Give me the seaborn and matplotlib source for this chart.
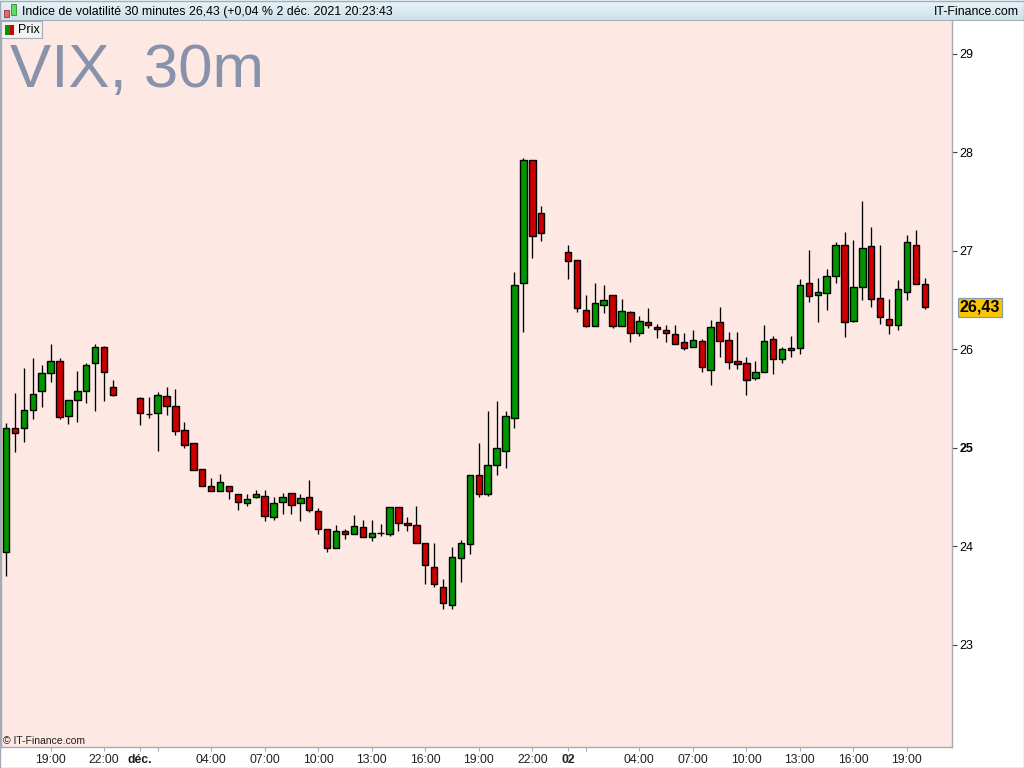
import matplotlib
matplotlib.use("Agg")
import matplotlib.pyplot as plt
from matplotlib.patches import Rectangle
from matplotlib.colors import LinearSegmentedColormap
import matplotlib.transforms as mtransforms
import numpy as np
import pandas as pd
import seaborn as sns

nan = np.nan

# 30 minute VIX candles, 30 nov 16:30 -> 2 dec 20:00 (nan = no trading)
opens = [23.94, 25.20, 25.20, 25.39, 25.58, 25.76, 25.88, 25.32, 25.49, 25.58,
         25.86, 26.03, 25.62, nan, nan, 25.51, 25.34, 25.35, 25.53, 25.43,
         25.18, 25.05, 24.79, 24.61, 24.56, 24.61, 24.53, 24.44, 24.50, 24.51,
         24.30, 24.45, 24.54, 24.44, 24.50, 24.36, 24.18, 23.98, 24.16, 24.13,
         24.20, 24.10, 24.14, 24.13, 24.40, 24.24, 24.22, 24.04, 23.79, 23.59,
         23.41, 23.88, 24.03, 24.73, 24.53, 24.83, 24.97, 25.30, 26.67, 27.92,
         27.39, nan, nan, 26.99, 26.91, 26.40, 26.24, 26.45, 26.55, 26.24,
         26.38, 26.17, 26.28, 26.23, 26.20, 26.16, 26.08, 26.02, 26.09, 25.79,
         26.28, 26.10, 25.88, 25.86, 25.71, 25.77, 26.11, 25.90, 25.99, 26.01,
         26.67, 26.55, 26.57, 26.75, 27.06, 26.29, 26.63, 27.05, 26.52, 26.31,
         26.25, 26.58, 27.06, 26.66]
highs = [25.25, 25.56, 25.81, 25.91, 25.84, 26.06, 25.91, 25.49, 25.78, 25.86,
         26.06, 26.04, 25.69, nan, nan, 25.52, 25.52, 25.57, 25.62, 25.60,
         25.26, 25.05, 24.79, 24.69, 24.74, 24.61, 24.53, 24.53, 24.57, 24.57,
         24.50, 24.54, 24.54, 24.53, 24.67, 24.39, 24.18, 24.22, 24.18, 24.32,
         24.27, 24.27, 24.23, 24.40, 24.40, 24.30, 24.41, 24.04, 24.04, 23.67,
         23.99, 24.07, 24.73, 25.05, 25.38, 25.48, 25.38, 26.79, 27.94, 27.92,
         27.46, nan, nan, 27.06, 26.91, 26.55, 26.67, 26.65, 26.55, 26.51,
         26.39, 26.34, 26.42, 26.26, 26.25, 26.25, 26.17, 26.20, 26.11, 26.30,
         26.43, 26.18, 26.18, 25.92, 25.88, 26.25, 26.14, 26.03, 26.14, 26.72,
         27.01, 26.73, 26.82, 27.09, 27.19, 27.11, 27.51, 27.24, 27.06, 26.51,
         26.71, 27.16, 27.21, 26.73]
lows = [23.70, 24.96, 25.06, 25.29, 25.42, 25.67, 25.29, 25.24, 25.26, 25.46,
        25.38, 25.48, 25.53, nan, nan, 25.23, 25.30, 24.97, 25.33, 25.13,
        25.00, 24.78, 24.61, 24.56, 24.56, 24.48, 24.37, 24.41, 24.49, 24.26,
        24.27, 24.33, 24.33, 24.26, 24.35, 24.13, 23.94, 23.98, 24.08, 24.13,
        24.10, 24.06, 24.11, 24.11, 24.16, 24.16, 24.04, 23.62, 23.59, 23.36,
        23.37, 23.64, 23.92, 24.50, 24.51, 24.73, 24.80, 25.20, 26.18, 26.93,
        27.10, nan, nan, 26.72, 26.38, 26.23, 26.24, 26.37, 26.22, 26.24,
        26.08, 26.14, 26.22, 26.12, 26.08, 26.06, 25.99, 26.02, 25.77, 25.64,
        25.92, 25.80, 25.80, 25.54, 25.69, 25.77, 25.75, 25.86, 25.92, 25.95,
        26.48, 26.28, 26.40, 26.67, 26.13, 26.28, 26.50, 26.43, 26.26, 26.16,
        26.20, 26.50, 26.66, 26.41]
closes = [25.20, 25.15, 25.39, 25.55, 25.76, 25.88, 25.31, 25.49, 25.58, 25.84,
          26.03, 25.77, 25.54, nan, nan, 25.35, 25.34, 25.54, 25.43, 25.17,
          25.03, 24.78, 24.61, 24.56, 24.65, 24.56, 24.45, 24.48, 24.53, 24.31,
          24.44, 24.50, 24.42, 24.49, 24.37, 24.18, 23.98, 24.16, 24.13, 24.21,
          24.10, 24.14, 24.14, 24.40, 24.24, 24.22, 24.04, 23.81, 23.62, 23.43,
          23.89, 24.04, 24.73, 24.53, 24.83, 25.00, 25.32, 26.65, 27.92, 27.15,
          27.18, nan, nan, 26.90, 26.42, 26.24, 26.47, 26.50, 26.24, 26.39,
          26.17, 26.29, 26.25, 26.21, 26.17, 26.06, 26.01, 26.10, 25.82, 26.23,
          26.09, 25.87, 25.85, 25.69, 25.77, 26.09, 25.90, 26.00, 26.01, 26.65,
          26.54, 26.58, 26.75, 27.06, 26.28, 26.63, 27.03, 26.51, 26.33, 26.25,
          26.61, 27.09, 26.66, 26.43]

tick_times = ["2021-11-30 19:00", "2021-11-30 22:00", "2021-12-01 00:00", "2021-12-01 01:00",
              "2021-12-01 04:00", "2021-12-01 07:00", "2021-12-01 10:00", "2021-12-01 13:00",
              "2021-12-01 16:00", "2021-12-01 19:00", "2021-12-01 22:00", "2021-12-02 00:00",
              "2021-12-02 01:00", "2021-12-02 04:00", "2021-12-02 07:00", "2021-12-02 10:00",
              "2021-12-02 13:00", "2021-12-02 16:00", "2021-12-02 19:00"]
tick_labels = ["19:00", "22:00", "déc.", "", "04:00", "07:00", "10:00", "13:00", "16:00",
               "19:00", "22:00", "02", "", "04:00", "07:00", "10:00", "13:00", "16:00", "19:00"]
y_ticks = [23, 24, 25, 26, 27, 28, 29]

last_price = "26,43"
title = "Indice de volatilité 30 minutes 26,43 (+0,04 % 2 déc. 2021 20:23:43"

df = pd.DataFrame({
    "time": pd.date_range("2021-11-30 16:30", periods=len(opens), freq="30min"),
    "open": opens, "high": highs, "low": lows, "close": closes,
})
df["slot"] = np.arange(len(df))
df = df.dropna()
df["up"] = df["close"] >= df["open"]

sns.set_theme(style="ticks")
plt.rcParams["font.family"] = ["Liberation Sans", "DejaVu Sans"]

W, H = 1024, 768
fig = plt.figure(figsize=(W / 100, H / 100), dpi=100)
fig.patch.set_facecolor("white")

edge_grey = "#a3acb5"
ax = fig.add_axes([1 / W, 21 / H, 951 / W, 727 / H])
ax.set_facecolor("#fde8e4")

# wicks, then bodies
ax.vlines(df["slot"], df["low"], df["high"], color="black", linewidth=0.95, zorder=2)
body_colors = np.where(df["up"], "#009600", "#cc0000")
ax.bar(df["slot"], df["close"] - df["open"], bottom=df["open"], width=0.72,
       color=body_colors, edgecolor="black", linewidth=1.0, zorder=3)

ax.set_xlim(-0.56, 106.05)
ax.set_ylim(21.964, 29.345)

# x axis (time)
all_times = pd.date_range("2021-11-30 16:30", periods=len(opens), freq="30min")
tick_pos = [all_times.get_loc(pd.Timestamp(t)) for t in tick_times]
ax.set_xticks(tick_pos)
ax.set_xticklabels(tick_labels, fontsize=8.8, color="#202020")
for lab in ax.get_xticklabels():
    if lab.get_text() in ("déc.", "02"):
        lab.set_fontweight("bold")
ax.tick_params(axis="x", length=3, width=0.8, color=edge_grey, pad=2)

# y axis on the right
ax.yaxis.tick_right()
ax.set_yticks(y_ticks)
ax.set_yticklabels([str(v) for v in y_ticks], fontsize=9, color="black")
for lab in ax.get_yticklabels():
    if lab.get_text() == "25":
        lab.set_fontweight("bold")
ax.tick_params(axis="y", length=3.5, width=0.8, color="#404040", pad=2)

for side in ["left", "bottom", "right"]:
    ax.spines[side].set_color(edge_grey)
    ax.spines[side].set_linewidth(1.0)
ax.spines["top"].set_visible(False)
ax.set_xlabel("")
ax.set_ylabel("")

# last price box
trans = mtransforms.blended_transform_factory(ax.transAxes, ax.transData)
ax.text(1.0 + 8 / 951, 26.43, last_price, transform=trans, fontsize=11.5,
        fontweight="bold", ha="left", va="center", color="black",
        bbox=dict(boxstyle="square,pad=0.12", fc="#f7c600", ec="#8a99a8", lw=0.9))

# watermark and copyright
fig.text(10 / W, 1 - 87 / H, "VIX, 30m", fontsize=44.5, color="#8892ab", ha="left", va="baseline")
fig.text(3 / W, 1 - 741 / H, "© IT-Finance.com", fontsize=7.5, color="#202020", ha="left", va="center")

# header bar with gradient
hdr = fig.add_axes([0, 748 / H, 1, 20 / H])
grad = np.linspace(0, 1, 50).reshape(-1, 1)
cmap = LinearSegmentedColormap.from_list("hdr", ["#eaf5f9", "#cde1ea"])
hdr.imshow(grad, aspect="auto", cmap=cmap, extent=[0, 1, 0, 1], origin="upper")
hdr.set_xlim(0, 1)
hdr.set_ylim(0, 1)
hdr.axis("off")
fig.text(22 / W, 1 - 12 / H, title, fontsize=8.95, color="black", ha="left", va="center")
fig.text(1019 / W, 1 - 12 / H, "IT-Finance.com", fontsize=8.95, color="black", ha="right", va="center")
fig.add_artist(Rectangle((0, 747.5 / H), 1, 0.8 / H, transform=fig.transFigure,
                         fc=edge_grey, ec="none"))
# small candle icon in header
fig.add_artist(Rectangle((4 / W, 1 - 17 / H), 5 / W, 7 / H, transform=fig.transFigure,
                         fc="#e46a6a", ec="#a03030", lw=0.6))
fig.add_artist(Rectangle((11 / W, 1 - 15 / H), 5 / W, 11 / H, transform=fig.transFigure,
                         fc="#6ad66a", ec="#2f8f2f", lw=0.6))

# legend box "Prix"
fig.add_artist(Rectangle((1 / W, 1 - 38 / H), 41 / W, 17 / H, transform=fig.transFigure,
                         fc="#f2f2f2", ec=edge_grey, lw=0.8, zorder=5))
fig.add_artist(Rectangle((5 / W, 1 - 35 / H), 4.5 / W, 10 / H, transform=fig.transFigure,
                         fc="#009600", ec="none", zorder=6))
fig.add_artist(Rectangle((9.5 / W, 1 - 35 / H), 4.5 / W, 10 / H, transform=fig.transFigure,
                         fc="#cc0000", ec="none", zorder=6))
fig.text(18 / W, 1 - 30 / H, "Prix", fontsize=9, color="black", ha="left", va="center", zorder=7)

# outer frame
fig.add_artist(Rectangle((0, 0), 1 - 0.5 / W, 1 - 0.5 / H, transform=fig.transFigure,
                         fill=False, ec=edge_grey, lw=1.0))

fig.savefig("out.png", dpi=100)
